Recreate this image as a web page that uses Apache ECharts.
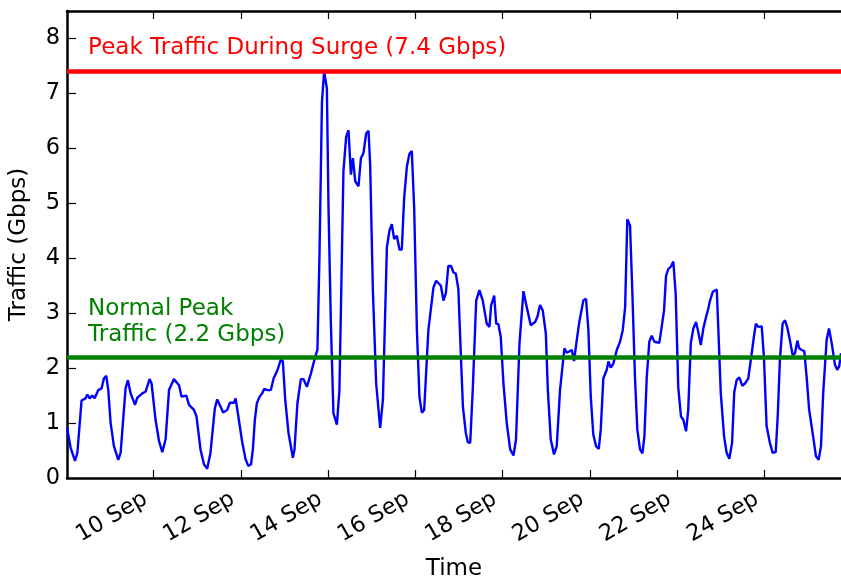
<!DOCTYPE html>
<html>
<head>
<meta charset="utf-8">
<title>Network Traffic</title>
<script src="https://cdn.jsdelivr.net/npm/echarts@6/dist/echarts.min.js"></script>
<style>
  html, body { margin: 0; padding: 0; background: #fff; }
  #chart { width: 841px; height: 586px; }
</style>
</head>
<body>
<div id="chart"></div>
<script>
// Sample times, in hours after the start of 8 Sep
const sampleHours = [
  0.4, 2.4, 4.8, 6.1, 8.4, 10.6, 11.6, 12.8, 14.3, 15.6, 17.6, 19.4, 20.7, 22.0, 23.1, 24.4, 26.2, 28.6, 29.9,
  32.6, 33.9, 35.4, 37.8, 39.0, 41.8, 43.6, 45.8, 46.9, 49.1, 51.0, 52.8, 54.6, 56.5, 59.2, 62.0, 63.4, 66.0,
  67.5, 70.2, 71.6, 73.8, 75.7, 77.5, 79.3, 81.7, 83.0, 84.8, 86.3, 88.5, 90.0, 92.2, 93.1, 94.4, 96.8, 98.6,
  100.1, 101.6, 102.6, 103.7, 104.8, 106.3, 107.7, 108.8, 110.7, 112.5, 114.0, 116.2, 118.0, 119.1, 120.4,
  122.2, 124.6, 125.5, 127.1, 129.0, 130.4, 132.3, 134.5, 136.9, 138.1, 139.2, 140.6, 141.8, 143.3, 144.2,
  145.5, 146.9, 148.8, 150.2, 152.4, 153.9, 155.2, 156.5, 157.6, 158.9, 160.7, 162.0, 163.4, 164.9, 166.2,
  167.1, 168.6, 170.4, 172.6, 174.1, 176.3, 177.7, 179.0, 180.3, 181.8, 183.2, 184.5, 185.8, 187.3, 188.7,
  190.0, 191.3, 192.8, 194.2, 195.5, 196.8, 199.1, 201.9, 203.4, 206.0, 207.4, 208.7, 210.1, 211.6, 212.9,
  214.2, 215.6, 217.0, 218.1, 219.7, 220.8, 222.1, 223.5, 225.4, 227.2, 229.0, 231.2, 232.7, 233.6, 235.3,
  236.4, 237.6, 238.9, 240.4, 242.2, 244.1, 245.9, 247.3, 249.2, 251.4, 253.2, 255.4, 257.8, 259.1, 260.5,
  262.0, 263.7, 264.8, 266.4, 268.2, 269.7, 271.5, 273.9, 275.2, 278.0, 279.2, 280.7, 282.1, 284.3, 285.8,
  287.1, 288.4, 289.8, 291.3, 292.8, 293.9, 295.3, 297.2, 298.1, 299.4, 300.8, 302.7, 304.5, 306.0, 307.3,
  308.5, 310.0, 311.3, 312.7, 314.0, 315.5, 316.8, 317.9, 319.2, 320.6, 321.9, 323.4, 326.1, 327.4, 328.7,
  329.8, 331.0, 332.5, 333.8, 335.1, 336.5, 338.0, 339.3, 340.8, 342.0, 343.4, 344.8, 346.3, 347.5, 348.9,
  350.3, 351.8, 353.0, 354.0, 355.5, 357.7, 358.5, 359.9, 361.7, 363.1, 364.6, 366.1, 367.3, 368.6, 370.1,
  371.7, 373.2, 375.0, 376.9, 378.1, 379.2, 380.5, 382.4, 383.6, 385.1, 386.9, 388.4, 390.1, 391.2, 392.4,
  393.9, 395.2, 396.4, 397.9, 399.4, 400.7, 402.0, 403.0, 404.4, 405.8, 407.1, 408.5, 410.4, 412.2, 413.7,
  415.0, 416.2, 418.1, 419.4, 420.9, 422.7, 423.9, 425.0, 426.0
];

// Measured traffic in Gbps at each sample time
const trafficGbps = [
  0.92, 0.55, 0.31, 0.46, 1.41, 1.45, 1.52, 1.45, 1.50, 1.45, 1.60, 1.63, 1.81, 1.86, 1.60, 1.00, 0.58, 0.33, 0.46,
  1.63, 1.78, 1.54, 1.33, 1.46, 1.54, 1.57, 1.80, 1.72, 1.06, 0.67, 0.47, 0.70, 1.60, 1.80, 1.69, 1.48, 1.50,
  1.33, 1.24, 1.12, 0.52, 0.25, 0.17, 0.46, 1.27, 1.43, 1.30, 1.19, 1.24, 1.37, 1.37, 1.45, 1.17, 0.64, 0.34,
  0.22, 0.25, 0.52, 1.06, 1.36, 1.48, 1.54, 1.62, 1.60, 1.60, 1.81, 1.97, 2.16, 2.12, 1.42,
  0.82, 0.37, 0.52, 1.36, 1.80, 1.80, 1.66, 1.90, 2.21, 2.33, 4.01, 6.85, 7.40, 7.09, 4.92,
  2.81, 1.18, 0.97, 1.60, 5.58, 6.21, 6.33, 5.52, 5.82, 5.40, 5.31, 5.82, 5.91, 6.27, 6.32,
  5.70, 3.41, 1.72, 0.91, 1.42, 4.20, 4.50, 4.62, 4.35, 4.41, 4.16, 4.16, 5.10, 5.67, 5.90,
  5.95, 4.92, 2.69, 1.48, 1.19, 1.24, 2.69, 3.47, 3.59, 3.50, 3.23, 3.36, 3.86, 3.86, 3.74,
  3.72, 3.44, 2.21, 1.30, 0.82, 0.65, 0.64, 1.60, 3.23, 3.42, 3.23, 2.81, 2.75, 3.14, 3.32,
  2.81, 2.80, 2.57, 1.72, 1.00, 0.52, 0.41, 0.70, 2.45, 3.40, 3.11, 2.78, 2.84, 2.94, 3.15,
  3.05, 2.63, 1.60, 0.70, 0.43, 0.58, 1.60, 2.36, 2.28, 2.33, 2.13, 2.51, 2.84, 3.23, 3.26,
  2.69, 1.48, 0.79, 0.58, 0.53, 0.88, 1.81, 1.97, 2.12, 2.01, 2.08, 2.33, 2.48, 2.69, 3.11,
  4.71, 4.59, 3.35, 1.84, 0.88, 0.52, 0.45, 0.76, 1.84, 2.48, 2.59, 2.48, 2.46, 2.75, 3.05,
  3.68, 3.80, 3.85, 3.94, 3.35, 1.66, 1.12, 1.06, 0.85, 1.24, 2.45, 2.72, 2.84, 2.66, 2.42,
  2.72, 2.93, 3.08, 3.23, 3.39, 3.43, 2.75, 1.54, 0.76, 0.46, 0.35, 0.64, 1.56, 1.78, 1.83,
  1.68, 1.72, 1.81, 2.27, 2.57, 2.81, 2.75, 2.76, 2.21, 0.94, 0.64, 0.46, 0.47, 1.12, 2.15,
  2.81, 2.87, 2.75, 2.51, 2.24, 2.27, 2.50, 2.36, 2.33, 2.31, 1.84, 1.24, 0.82, 0.40, 0.33,
  0.58, 1.54, 2.51, 2.72, 2.45, 2.06, 1.97, 2.03, 2.27
];

// Date ticks: day of September, and the text shown under each
const tickDays = [10, 12, 14, 16, 18, 20, 22, 24];
const tickLabels = ['10 Sep', '12 Sep', '14 Sep', '16 Sep', '18 Sep', '20 Sep', '22 Sep', '24 Sep'];
const firstDay = 8; // the hour count starts at midnight on 8 Sep

// Reference levels
const surgePeak = 7.4;
const normalPeak = 2.2;
const surgeText = 'Peak Traffic During Surge (7.4 Gbps)';
const normalText = 'Normal Peak\nTraffic (2.2 Gbps)';
// Where the two notes sit: [hours after start, Gbps]
const surgeTextAt = [12.0, 7.83];
const normalTextAt = [12.0, 2.84];

const points = sampleHours.map((h, i) => [h, trafficGbps[i]]);
const tickValues = tickDays.map(d => (d - firstDay) * 24);
const labelFor = new Map(tickValues.map((v, i) => [v, tickLabels[i]]));

const xMin = sampleHours[0];
const xMax = sampleHours[sampleHours.length - 1];

const FONT = 'DejaVu Sans';
const black = '#000000';

const chart = echarts.init(document.getElementById('chart'), null, { renderer: 'canvas' });

// Bottom and top frame lines share the same scale and inward date ticks
const frameAxis = (position) => ({
  type: 'value',
  position: position,
  min: xMin,
  max: xMax,
  axisLine: { show: true, onZero: false, lineStyle: { color: black, width: 2.5 } },
  axisTick: { show: true, inside: true, length: 8, customValues: tickValues,
              lineStyle: { color: black, width: 1.2 } },
  splitLine: { show: false }
});

chart.setOption({
  animation: false,
  backgroundColor: '#ffffff',
  grid: { left: 67, right: 0, top: 11, bottom: 104, containLabel: false },
  xAxis: [
    Object.assign(frameAxis('bottom'), {
      name: 'Time',
      nameLocation: 'middle',
      nameGap: 80,
      nameTextStyle: { fontFamily: FONT, fontSize: 23, color: black },
      axisLabel: {
        show: true, customValues: tickValues, rotate: 30, margin: 15,
        fontFamily: FONT, fontSize: 22.5, color: black,
        padding: [0, 9, 0, 0],
        formatter: v => labelFor.get(v) || ''
      }
    }),
    Object.assign(frameAxis('top'), {
      axisLabel: { show: false }
    })
  ],
  yAxis: {
    type: 'value',
    min: 0,
    max: 8.5,
    interval: 1,
    name: 'Traffic (Gbps)',
    nameLocation: 'middle',
    nameGap: 36,
    nameTextStyle: { fontFamily: FONT, fontSize: 23, color: black },
    axisLine: { show: true, onZero: false, lineStyle: { color: black, width: 2.5 } },
    axisTick: { show: true, inside: true, length: 9, lineStyle: { color: black, width: 1.2 } },
    axisLabel: { show: true, margin: 7, fontFamily: FONT, fontSize: 22.5, color: black, showMaxLabel: false },
    splitLine: { show: false }
  },
  series: [
    {
      name: 'Traffic',
      type: 'line',
      xAxisIndex: 0,
      data: points,
      showSymbol: false,
      symbol: 'none',
      lineStyle: { color: '#0000ff', width: 2.4 },
      z: 2,
      silent: true
    },
    {
      name: 'Levels',
      type: 'line',
      xAxisIndex: 0,
      data: [],
      z: 3,
      silent: true,
      markLine: {
        silent: true,
        symbol: ['none', 'none'],
        label: { show: false },
        data: [
          { yAxis: surgePeak, lineStyle: { color: '#ff0000', width: 4.5, type: 'solid', opacity: 1 } },
          { yAxis: normalPeak, lineStyle: { color: '#008000', width: 4.5, type: 'solid', opacity: 1 } }
        ]
      }
    },
    {
      name: 'Notes',
      type: 'scatter',
      xAxisIndex: 0,
      symbolSize: 0,
      silent: true,
      z: 4,
      itemStyle: { opacity: 1 },
      data: [
        { value: [surgeTextAt[0], surgeTextAt[1]],
          label: { formatter: surgeText, color: '#ff0000' } },
        { value: [normalTextAt[0], normalTextAt[1]],
          label: { formatter: normalText, color: '#008000' } }
      ],
      label: {
        show: true, position: 'right', distance: 0, align: 'left', verticalAlign: 'middle',
        fontFamily: FONT, fontSize: 23, lineHeight: 26.7, opacity: 1
      }
    }
  ]
});
</script>
</body>
</html>
